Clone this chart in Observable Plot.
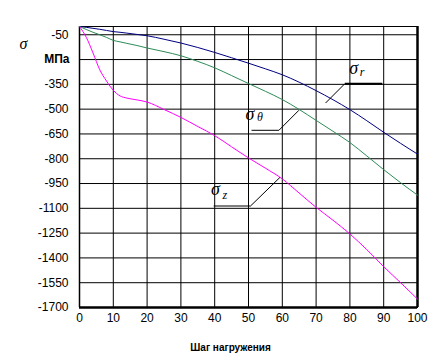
<!DOCTYPE html>
<html><head><meta charset="utf-8">
<script src="https://cdn.jsdelivr.net/npm/d3@7"></script>
<script src="https://cdn.jsdelivr.net/npm/@observablehq/plot@0.6"></script>
<style>body{margin:0;background:#fff}</style>
</head><body><div id="chart"></div>
<script>
// Load step (x) and stresses (MPa)
const steps      = [0, 2, 4, 6, 8, 10, 12, 14, 17, 20, 25, 30, 35, 40, 45, 50, 55, 60, 65, 70, 75, 80, 85, 90, 95, 100];
const sigmaR     = [0, -5, -11, -17, -24, -31, -35, -40, -48, -56, -77, -100, -127, -157, -189, -222, -256, -292, -337, -388, -443, -503, -570, -640, -707, -772];
const sigmaTheta = [0, -18, -35, -50, -66, -84, -93, -102, -115, -130, -152, -177, -211, -250, -297, -345, -392, -442, -502, -568, -634, -702, -783, -866, -945, -1020];
const sigmaZ     = [0, -65, -160, -262, -330, -386, -420, -433, -444, -457, -502, -550, -605, -660, -728, -795, -857, -922, -1008, -1094, -1172, -1255, -1350, -1453, -1550, -1649];

const xTicks = [0, 10, 20, 30, 40, 50, 60, 70, 80, 90, 100];
const yTicks = [-50, -200, -350, -500, -650, -800, -950, -1100, -1250, -1400, -1550, -1700];
const unitTick = -200;
const unitLabel = "МПа";
const yAxisSymbol = "σ";
const xAxisTitle = "Шаг нагружения";

// Annotation labels (data coords) and their leader lines
const annNames = ["r", "θ", "z"];
const annSigmaX = [81.1, 50.4, 40.2];
const annSigmaY = [-253, -531, -987];
const annSubX = [83.6, 53.4, 43.0];
const annSubY = [-278, -549, -1023];
const leaderTipX = [72.8, 64.9, 59.3];
const leaderTipY = [-463, -507, -913];
const leaderElbowX = [78.5, 59.0, 50.6];
const leaderElbowY = [-346, -628, -1086];
const leaderEndX = [89.6, 50.9, 39.7];
const leaderWidth = [2, 1, 1];

const seriesColors = {r: "#000080", t: "#2e8b57", z: "#ff00ff"};

const rowsR = steps.map((s, i) => ({step: s, value: sigmaR[i]}));
const rowsT = steps.map((s, i) => ({step: s, value: sigmaTheta[i]}));
const rowsZ = steps.map((s, i) => ({step: s, value: sigmaZ[i]}));
const ann = annNames.map((n, i) => ({
  name: n, sx: annSigmaX[i], sy: annSigmaY[i], bx: annSubX[i], by: annSubY[i],
  tx: leaderTipX[i], ty: leaderTipY[i], ex: leaderElbowX[i], ey: leaderElbowY[i], hx: leaderEndX[i], w: leaderWidth[i]
}));

const chart = Plot.plot({
  width: 444, height: 355,
  marginLeft: 79, marginRight: 27, marginTop: 26, marginBottom: 48,
  x: {domain: [0, 100]},
  y: {domain: [-1700, 0]},
  style: {fontFamily: "'Liberation Sans', Arial, sans-serif", fontSize: "12px", color: "#000", background: "#fff", overflow: "visible"},
  marks: [
    Plot.ruleX(xTicks, {stroke: "#000", strokeWidth: 1}),
    Plot.ruleY(yTicks, {stroke: "#000", strokeWidth: 1}),
    Plot.frame({stroke: "#000"}),
    Plot.ruleX([0], {stroke: "#000", strokeWidth: 1.5}),
    Plot.ruleX([100], {stroke: "#000", strokeWidth: 2.5}),
    Plot.ruleY([-1700], {stroke: "#000", strokeWidth: 2.5}),
    Plot.line(rowsR, {x: "step", y: "value", stroke: seriesColors.r, strokeWidth: 1, curve: "monotone-x"}),
    Plot.line(rowsT, {x: "step", y: "value", stroke: seriesColors.t, strokeWidth: 1, curve: "monotone-x"}),
    Plot.line(rowsZ, {x: "step", y: "value", stroke: seriesColors.z, strokeWidth: 1, curve: "monotone-x"}),
    // leaders
    Plot.link(ann, {x1: "tx", y1: "ty", x2: "ex", y2: "ey", stroke: "#000", strokeWidth: 1}),
    Plot.link(ann, {x1: "ex", y1: "ey", x2: "hx", y2: "ey", stroke: "#000", strokeWidth: "w"}),
    Plot.text(ann, {x: "sx", y: "sy", text: () => "σ", fontFamily: "'Liberation Serif', serif", fontStyle: "italic", fontSize: 18, textAnchor: "middle", lineAnchor: "middle"}),
    Plot.text(ann, {x: "bx", y: "by", text: "name", fontFamily: "'Liberation Serif', serif", fontStyle: "italic", fontSize: 12, textAnchor: "middle", lineAnchor: "middle"}),
    // axes
    Plot.axisX({ticks: xTicks, tickSize: 0, tickPadding: 6, label: null, tickFormat: d => String(d)}),
    Plot.axisY({ticks: yTicks.filter(d => d !== unitTick), tickSize: 0, tickPadding: 11, label: null, tickFormat: d => String(d)}),
    Plot.text([unitLabel], {y: unitTick, frameAnchor: "left", dx: -10, textAnchor: "end", lineAnchor: "middle", fontWeight: "bold", fontSize: 12}),
    Plot.text([yAxisSymbol], {y: -103, frameAnchor: "left", dx: -56, textAnchor: "middle", lineAnchor: "middle", fontFamily: "'Liberation Serif', serif", fontStyle: "italic", fontSize: 16}),
    Plot.text([xAxisTitle], {x: 44.7, frameAnchor: "bottom", dy: 40, textAnchor: "middle", lineAnchor: "middle", fontWeight: "bold", fontSize: 10})
  ]
});
document.getElementById("chart").appendChild(chart);
</script>
</body></html>
